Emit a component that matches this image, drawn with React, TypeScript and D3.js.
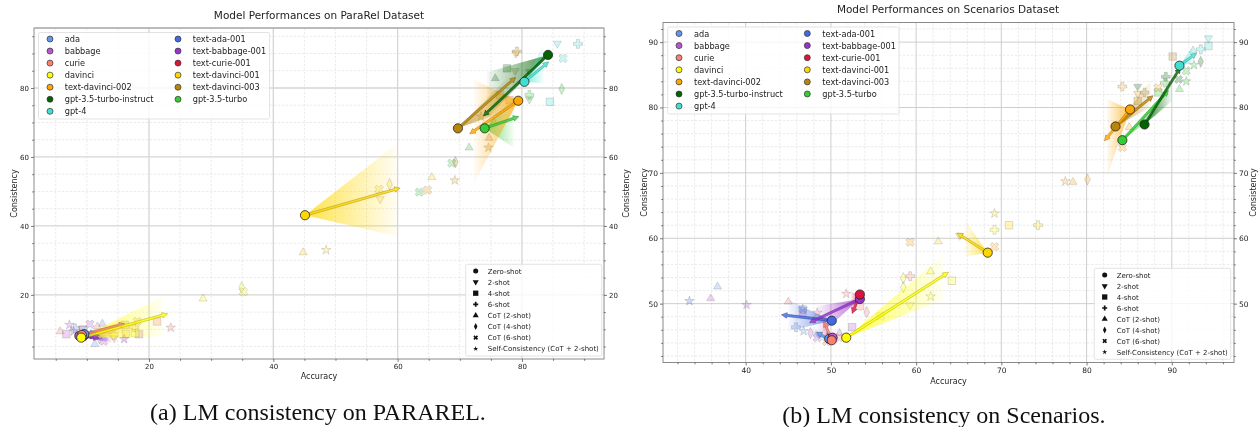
import { useEffect, useRef } from "react";
import * as d3 from "d3";

// legend order, two columns
const modelsCol1 = ["ada", "babbage", "curie", "davinci", "text-davinci-002", "gpt-3.5-turbo-instruct", "gpt-4"];
const modelsCol2 = ["text-ada-001", "text-babbage-001", "text-curie-001", "text-davinci-001", "text-davinci-003", "gpt-3.5-turbo"];
const shots = ["Zero-shot", "2-shot", "4-shot", "6-shot", "CoT (2-shot)", "CoT (4-shot)", "CoT (6-shot)", "Self-Consistency (CoT + 2-shot)"];

const modelColors: any = {
  "ada": "#6495ED", "babbage": "#BA55D3", "curie": "#FA8072", "davinci": "#FFFF00",
  "text-davinci-002": "#FFA500", "gpt-3.5-turbo-instruct": "#006400", "gpt-4": "#40E0D0",
  "text-ada-001": "#4169E1", "text-babbage-001": "#9932CC", "text-curie-001": "#DC143C",
  "text-davinci-001": "#FFD700", "text-davinci-003": "#B8860B", "gpt-3.5-turbo": "#32CD32",
};

// model -> zero-shot [accuracy, consistency]
const paraRelZero: any = {
  "ada": [9.6, 8.6], "babbage": [8.8, 8.1], "curie": [9.2, 8.4], "davinci": [9.1, 7.6],
  "text-davinci-002": [79.4, 76.3], "gpt-3.5-turbo-instruct": [84.2, 89.6], "gpt-4": [80.4, 81.8],
  "text-ada-001": [9.0, 8.0], "text-babbage-001": [9.4, 8.0], "text-curie-001": [9.5, 8.2],
  "text-davinci-001": [45.1, 43.1], "text-davinci-003": [69.7, 68.3], "gpt-3.5-turbo": [74.0, 68.3],
};
// model -> arrow tip [accuracy, consistency]
const paraRelTips: any = {
  "ada": [11.5, 9.2], "babbage": [12, 8.2], "curie": [16.1, 11.6], "davinci": [23, 14.5],
  "text-davinci-002": [71.6, 66.7], "gpt-3.5-turbo-instruct": [73.8, 71.9], "gpt-4": [84.3, 87.6],
  "text-ada-001": [11.5, 8], "text-babbage-001": [12, 7.4], "text-curie-001": [11, 8.9],
  "text-davinci-001": [60.4, 51], "text-davinci-003": [79, 83.1], "gpt-3.5-turbo": [79.5, 71.7],
};
// model -> cone end [accuracy, upper consistency, lower consistency]
const paraRelCones: any = {
  "ada": [13, 10.5, 7], "babbage": [14, 9.5, 6], "curie": [15, 12, 8], "davinci": [22.2, 19.5, 7.9],
  "text-davinci-002": [72.3, 82.3, 52.5], "gpt-3.5-turbo-instruct": [74.4, 84.6, 71.3], "gpt-4": [83.5, 92.5, 81.4],
  "text-ada-001": [13, 9.5, 6.5], "text-babbage-001": [14, 8.5, 6.2], "text-curie-001": [16, 12.5, 9],
  "text-davinci-001": [60, 64, 37], "text-davinci-003": [77.9, 83.3, 73.6], "gpt-3.5-turbo": [78.7, 77.2, 62.7],
};
// [model, shot index in shots, accuracy, consistency]
const paraRelPoints: any[] = [
  ["text-davinci-003", 3, 79.2, 90.6], ["text-davinci-002", 1, 79.0, 90.0], ["gpt-3.5-turbo-instruct", 4, 75.7, 82.8],
  ["gpt-3.5-turbo-instruct", 2, 77.6, 85.7], ["text-davinci-003", 1, 78.9, 85.0], ["gpt-3.5-turbo-instruct", 1, 81.2, 84.7],
  ["gpt-4", 2, 84.5, 76], ["gpt-3.5-turbo", 5, 86.4, 79.7], ["gpt-3.5-turbo", 3, 81.2, 78], ["gpt-3.5-turbo", 1, 81.2, 76.7],
  ["gpt-4", 1, 85.7, 92.9], ["gpt-4", 3, 89, 92.8], ["gpt-4", 6, 86.6, 88.6], ["text-davinci-003", 7, 73.4, 71.7],
  ["text-davinci-003", 4, 74.7, 65.5], ["text-davinci-003", 7, 74.6, 62.7], ["gpt-3.5-turbo", 4, 71.5, 62.7],
  ["gpt-3.5-turbo", 6, 68.7, 58.2], ["text-davinci-003", 5, 69.3, 58.5], ["text-davinci-001", 4, 65.5, 54.1],
  ["text-davinci-002", 7, 69.2, 53.2], ["text-davinci-002", 6, 64.8, 50.4], ["gpt-3.5-turbo", 6, 63.5, 49.8],
  ["text-davinci-002", 2, 76.5, 78], ["text-davinci-003", 2, 78, 76.5], ["text-davinci-002", 4, 75.5, 70],
  ["text-davinci-001", 5, 58.7, 52.1], ["text-davinci-001", 6, 57, 50.6], ["text-davinci-001", 1, 57.2, 47.8],
  ["text-davinci-001", 4, 44.8, 32.3], ["text-davinci-001", 7, 48.5, 33],
  ["davinci", 4, 28.7, 18.9], ["davinci", 5, 34.9, 22.2], ["davinci", 6, 35.2, 20.9],
  ["curie", 7, 23.5, 10.5], ["curie", 2, 21.3, 12.3], ["text-davinci-002", 6, 18.1, 12.3], ["babbage", 2, 18.4, 8.6],
  ["davinci", 2, 17.8, 8.9], ["text-davinci-003", 2, 16.1, 11.3], ["text-davinci-002", 2, 16.3, 8.7],
  ["text-babbage-001", 7, 16, 7.2], ["curie", 1, 14.4, 7.5], ["text-davinci-002", 3, 17.6, 10.6],
  ["ada", 4, 11.3, 5.7], ["ada", 4, 12.5, 11.6], ["babbage", 6, 10.5, 11.5], ["babbage", 7, 7.2, 11.3],
  ["curie", 4, 5.7, 9.4], ["babbage", 2, 6.7, 8.6], ["text-babbage-001", 7, 7.9, 9.4], ["ada", 3, 8.1, 10.3],
  ["curie", 1, 9.2, 10.3], ["ada", 2, 9.4, 9.9], ["ada", 5, 12, 7.5], ["babbage", 6, 12.7, 6.5],
  ["curie", 4, 11.7, 10.8], ["davinci", 3, 14.3, 8.4],
];

const scenariosZero: any = {
  "ada": [49.8, 44.6], "babbage": [50.2, 44.8], "curie": [50.1, 44.4], "davinci": [51.8, 44.8],
  "text-davinci-002": [85.1, 79.7], "gpt-3.5-turbo-instruct": [86.8, 77.4], "gpt-4": [90.9, 86.4],
  "text-ada-001": [50.1, 47.4], "text-babbage-001": [53.4, 50.7], "text-curie-001": [53.4, 51.4],
  "text-davinci-001": [68.4, 57.8], "text-davinci-003": [83.4, 77.1], "gpt-3.5-turbo": [84.2, 75],
};
const scenariosTips: any = {
  "ada": [48.3, 45.6], "babbage": [49.5, 45.5], "curie": [49.2, 47.3], "davinci": [63.8, 54.8],
  "text-davinci-002": [82.1, 74.9], "gpt-3.5-turbo-instruct": [91, 86.1], "gpt-4": [92.9, 88.3],
  "text-ada-001": [44.2, 48.3], "text-babbage-001": [47.5, 47.1], "text-curie-001": [52.5, 48.5],
  "text-davinci-001": [64.8, 60.8], "text-davinci-003": [87.8, 81.8], "gpt-3.5-turbo": [89.6, 82.6],
};
const scenariosCones: any = {
  "ada": [47.8, 46.4, 44.9], "babbage": [49, 46.5, 44.8], "curie": [49, 48, 45.5], "davinci": [63.2, 57.5, 50.6],
  "text-davinci-002": [82.4, 81.3, 69.4], "gpt-3.5-turbo-instruct": [90, 84.5, 81], "gpt-4": [92.5, 89.5, 86.8],
  "text-ada-001": [45, 50.6, 45.8], "text-babbage-001": [48.3, 49.6, 44.8], "text-curie-001": [52.3, 51.8, 48.7],
  "text-davinci-001": [65.7, 62.8, 57.2], "text-davinci-003": [87.6, 84.2, 80.1], "gpt-3.5-turbo": [89.4, 82.7, 80.1],
};
const scenariosPoints: any[] = [
  ["text-ada-001", 7, 33.4, 50.4], ["babbage", 4, 35.9, 50.8], ["ada", 4, 36.7, 52.6], ["babbage", 7, 40.1, 49.8],
  ["curie", 4, 45, 50.3], ["ada", 2, 46.7, 49.1], ["ada", 7, 46.7, 49.2], ["babbage", 6, 46.7, 48.6], ["ada", 3, 45.9, 46.4],
  ["ada", 7, 46.8, 45.8], ["babbage", 5, 47.6, 45.5], ["babbage", 6, 48.4, 44.8], ["curie", 7, 48.4, 48.6],
  ["curie", 7, 51.8, 51.5], ["curie", 2, 53.4, 49.6], ["curie", 5, 54.2, 48.7], ["babbage", 2, 52.5, 46.4],
  ["babbage", 4, 51, 45.5], ["curie", 6, 51, 44.8], ["curie", 6, 49.5, 44.2], ["ada", 1, 48.6, 45.3], ["babbage", 5, 49.4, 47.1],
  ["davinci", 1, 59.3, 49.8], ["davinci", 5, 58.5, 53.9], ["davinci", 5, 58.5, 52.5], ["curie", 3, 59.3, 54.2],
  ["davinci", 6, 55.8, 48.1], ["text-davinci-002", 6, 59.3, 59.4], ["text-davinci-001", 4, 62.6, 59.5],
  ["davinci", 4, 61.7, 54.9], ["davinci", 7, 61.7, 51.1], ["davinci", 2, 64.2, 53.5], ["text-davinci-001", 1, 65.1, 60.4],
  ["text-davinci-002", 6, 69.2, 58.7], ["davinci", 3, 69.2, 61.3], ["text-davinci-001", 7, 69.2, 63.8],
  ["text-davinci-001", 2, 70.9, 62], ["text-davinci-001", 3, 74.3, 62], ["text-davinci-002", 7, 77.5, 68.7],
  ["text-davinci-002", 4, 78.4, 68.6], ["text-davinci-002", 5, 80.1, 69], ["text-davinci-002", 6, 84.2, 73.9],
  ["text-davinci-002", 3, 84.2, 83.2], ["gpt-3.5-turbo-instruct", 1, 86, 83.2], ["text-davinci-002", 1, 86, 82.1],
  ["text-davinci-003", 3, 86.8, 82.3], ["text-davinci-003", 2, 86, 81], ["gpt-3.5-turbo", 2, 88.4, 82.3],
  ["text-davinci-002", 6, 88.4, 83], ["gpt-3.5-turbo", 4, 90.9, 82.8], ["gpt-3.5-turbo", 7, 91.7, 84],
  ["gpt-3.5-turbo-instruct", 6, 90.8, 84.3], ["gpt-3.5-turbo-instruct", 3, 89.3, 84.7], ["gpt-3.5-turbo", 3, 89.2, 83.8],
  ["text-davinci-003", 2, 90.1, 87.8], ["gpt-3.5-turbo", 6, 91.7, 85.6], ["gpt-3.5-turbo", 7, 92.6, 86.5],
  ["gpt-3.5-turbo-instruct", 5, 93.4, 87], ["gpt-4", 3, 93.4, 88.9], ["gpt-4", 4, 92.5, 88.7], ["gpt-4", 2, 94.3, 89.4],
  ["gpt-4", 1, 94.3, 90.6], ["text-davinci-002", 4, 85, 77],
];

const panels = [
  {
    id: "a", title: "Model Performances on ParaRel Dataset", caption: "(a) LM consistency on PARAREL.",
    zero: paraRelZero, tips: paraRelTips, cones: paraRelCones, points: paraRelPoints,
    xDomain: [1.5, 93.2], yDomain: [1.4, 97.4], xRange: [34, 604], yRange: [359, 28],
    xMajor: [20, 40, 60, 80], yMajor: [20, 40, 60, 80], xStep: 5, yStep: 5,
    titleX: 319, titleY: 19, xLabelY: 379, leftLabelX: 17, rightLabelX: 629, captionX: 318, captionY: 420, fontTick: 7,
    gridWidth: 1.3, gridColor: "#d6d6d6", topSpine: "#b8b8b8", topWidth: 1.6,
    models: { x: 38.5, y: 32.5, w: 231, h: 86.5, rowStart: 39, row: 12.05, m1: 50, t1: 64.7, m2: 178, t2: 192.7 },
    shotBox: { x: 465.7, y: 264.3, w: 136, h: 91.7, rowStart: 271, row: 11.1, m: 475.7, t: 487.7 },
  },
  {
    id: "b", title: "Model Performances on Scenarios Dataset", caption: "(b) LM consistency on Scenarios.",
    zero: scenariosZero, tips: scenariosTips, cones: scenariosCones, points: scenariosPoints,
    xDomain: [30.3, 97.3], yDomain: [41, 93], xRange: [663, 1234], yRange: [362.5, 22.5],
    xMajor: [40, 50, 60, 70, 80, 90], yMajor: [50, 60, 70, 80, 90], xStep: 2, yStep: 2,
    titleX: 948, titleY: 13, xLabelY: 384, leftLabelX: 647, rightLabelX: 1256, captionX: 944, captionY: 423, fontTick: 7.5,
    gridWidth: 0.9, gridColor: "#c8c8c8", topSpine: "#8a8a8a", topWidth: 1,
    models: { x: 667.7, y: 27, w: 231.3, h: 87, rowStart: 33.5, row: 12.1, m1: 679, t1: 694, m2: 807.3, t2: 822.3 },
    shotBox: { x: 1094.3, y: 268.3, w: 136.4, h: 91, rowStart: 275, row: 11, m: 1104.7, t: 1116.7 },
  },
];

const SANS = "'DejaVu Sans', sans-serif";
const drawOrder = [...modelsCol2, ...modelsCol1];

// d3 symbol + transform per shot, matplotlib style markers
const markerSizes = [48, 28, 56, 44, 28, 40, 44, 28];
const legendSizes = [20, 16, 28, 14, 16, 16, 14, 8];

function shotPath(shot: number, size: number) {
  const sym = [d3.symbolCircle, d3.symbolTriangle, d3.symbolSquare, d3.symbolCross, d3.symbolTriangle, d3.symbolSquare, d3.symbolCross, d3.symbolStar][shot];
  return d3.symbol(sym, size)();
}
function shotTransform(shot: number, x: number, y: number) {
  if (shot === 1) return `translate(${x},${y}) rotate(180)`;
  if (shot === 5) return `translate(${x},${y}) scale(0.62,1.25) rotate(45)`;
  if (shot === 6) return `translate(${x},${y}) rotate(45)`;
  return `translate(${x},${y})`;
}

function arrowPoints(x0: number, y0: number, x1: number, y1: number, half: number) {
  const len = Math.hypot(x1 - x0, y1 - y0) || 1;
  const ux = (x1 - x0) / len, uy = (y1 - y0) / len;
  const nx = -uy, ny = ux;
  const headLen = 5.5, headHalf = half + 1.7;
  const bx = x1 - ux * headLen, by = y1 - uy * headLen;
  return [
    [x0 + nx * half, y0 + ny * half], [bx + nx * half, by + ny * half], [bx + nx * headHalf, by + ny * headHalf],
    [x1, y1], [bx - nx * headHalf, by - ny * headHalf], [bx - nx * half, by - ny * half], [x0 - nx * half, y0 - ny * half],
  ].map((p) => p.join(",")).join(" ");
}

function drawPanel(root: any, defs: any, p: any) {
  const x = d3.scaleLinear().domain(p.xDomain).range(p.xRange);
  const y = d3.scaleLinear().domain(p.yDomain).range(p.yRange);
  const [left, right] = p.xRange;
  const [bottom, top] = p.yRange;
  const g = root.append("g");

  const xMinor = d3.range(Math.ceil(p.xDomain[0] / p.xStep) * p.xStep, p.xDomain[1], p.xStep).filter((v: number) => !p.xMajor.includes(v));
  const yMinor = d3.range(Math.ceil(p.yDomain[0] / p.yStep) * p.yStep, p.yDomain[1], p.yStep).filter((v: number) => !p.yMajor.includes(v));

  // grid
  const grid = g.append("g");
  grid.selectAll(".mx").data(xMinor).join("line").attr("x1", (d: number) => x(d)).attr("x2", (d: number) => x(d)).attr("y1", top).attr("y2", bottom)
    .attr("stroke", "#e2e2e2").attr("stroke-width", 0.7).attr("stroke-dasharray", "2.5,1.5");
  grid.selectAll(".my").data(yMinor).join("line").attr("y1", (d: number) => y(d)).attr("y2", (d: number) => y(d)).attr("x1", left).attr("x2", right)
    .attr("stroke", "#e2e2e2").attr("stroke-width", 0.7).attr("stroke-dasharray", "2.5,1.5");
  grid.selectAll(".gx").data(p.xMajor).join("line").attr("x1", (d: number) => x(d)).attr("x2", (d: number) => x(d)).attr("y1", top).attr("y2", bottom)
    .attr("stroke", p.gridColor).attr("stroke-width", p.gridWidth);
  grid.selectAll(".gy").data(p.yMajor).join("line").attr("y1", (d: number) => y(d)).attr("y2", (d: number) => y(d)).attr("x1", left).attr("x2", right)
    .attr("stroke", p.gridColor).attr("stroke-width", p.gridWidth);

  // faint few-shot / CoT points
  g.append("g").selectAll("path").data(p.points).join("path")
    .attr("d", (d: any) => shotPath(d[1], markerSizes[d[1]]))
    .attr("transform", (d: any) => shotTransform(d[1], x(d[2]), y(d[3])))
    .attr("fill", (d: any) => modelColors[d[0]]).attr("fill-opacity", 0.26)
    .attr("stroke", "#555").attr("stroke-opacity", 0.28).attr("stroke-width", 0.7);

  // cone + arrow for each model
  drawOrder.forEach((m, i) => {
    const [ax, ay] = p.zero[m];
    const [ex, up, low] = p.cones[m];
    const gradId = `cone-${p.id}-${i}`;
    const grad = defs.append("linearGradient").attr("id", gradId).attr("gradientUnits", "userSpaceOnUse")
      .attr("x1", x(ax)).attr("y1", 0).attr("x2", x(ex)).attr("y2", 0);
    grad.append("stop").attr("offset", 0).attr("stop-color", modelColors[m]).attr("stop-opacity", 0.7);
    grad.append("stop").attr("offset", 1).attr("stop-color", modelColors[m]).attr("stop-opacity", 0.04);
    g.append("path")
      .attr("d", d3.line()([[x(ax), y(ay)], [x(ex), y(up)], [x(ex), y(low)]]) + "Z")
      .attr("fill", `url(#${gradId})`);
  });
  drawOrder.forEach((m) => {
    const [ax, ay] = p.zero[m];
    const [tx, ty] = p.tips[m];
    g.append("polygon")
      .attr("points", arrowPoints(x(ax), y(ay), x(tx), y(ty), 1.1))
      .attr("fill", modelColors[m]).attr("fill-opacity", 0.8)
      .attr("stroke", d3.color(modelColors[m])!.darker(1.2).formatHex()).attr("stroke-opacity", 0.8)
      .attr("stroke-width", 0.6);
  });
  // zero-shot circles on top
  drawOrder.forEach((m) => {
    const [ax, ay] = p.zero[m];
    g.append("circle").attr("cx", x(ax)).attr("cy", y(ay)).attr("r", 4.6)
      .attr("fill", modelColors[m]).attr("stroke", "#222").attr("stroke-width", 0.8);
  });

  // spines
  g.append("rect").attr("x", left).attr("y", top).attr("width", right - left).attr("height", bottom - top)
    .attr("fill", "none").attr("stroke", "#8a8a8a").attr("stroke-width", 1);
  g.append("line").attr("x1", left).attr("x2", right).attr("y1", top).attr("y2", top)
    .attr("stroke", p.topSpine).attr("stroke-width", p.topWidth);

  // axes
  const axisText = (sel: any) => {
    sel.selectAll("text").attr("font-family", SANS).attr("font-size", p.fontTick).attr("fill", "#222");
    sel.selectAll("path").remove();
    sel.selectAll("line").attr("stroke", "#444").attr("stroke-width", 0.7);
  };
  g.append("g").attr("transform", `translate(0,${bottom})`)
    .call(d3.axisBottom(x).tickValues(p.xMajor).tickSize(3).tickPadding(2)).call(axisText);
  g.append("g").attr("transform", `translate(${left},0)`)
    .call(d3.axisLeft(y).tickValues(p.yMajor).tickSize(3).tickPadding(2)).call(axisText);
  g.append("g").attr("transform", `translate(${right},0)`)
    .call(d3.axisRight(y).tickValues(p.yMajor).tickSize(3).tickPadding(2)).call(axisText);
  g.append("g").attr("transform", `translate(0,${bottom})`)
    .call(d3.axisBottom(x).tickValues(xMinor).tickSize(1.8).tickFormat(() => "")).call(axisText);
  g.append("g").attr("transform", `translate(${left},0)`)
    .call(d3.axisLeft(y).tickValues(yMinor).tickSize(1.8).tickFormat(() => "")).call(axisText);
  g.append("g").attr("transform", `translate(${right},0)`)
    .call(d3.axisRight(y).tickValues(yMinor).tickSize(1.8).tickFormat(() => "")).call(axisText);

  // titles and labels
  const label = (txt: string, tx: number, ty: number, size: number, rotate = false) => {
    const t = g.append("text").attr("text-anchor", "middle").attr("font-family", SANS).attr("font-size", size).attr("fill", "#222").text(txt);
    if (rotate) t.attr("transform", `translate(${tx},${ty}) rotate(-90)`);
    else t.attr("x", tx).attr("y", ty);
  };
  label(p.title, p.titleX, p.titleY, 10.5);
  label("Accuracy", (left + right) / 2, p.xLabelY, 8);
  const midY = (top + bottom) / 2;
  label("Consistency", p.leftLabelX, midY, 8, true);
  label("Consistency", p.rightLabelX, midY, 8, true);

  g.append("text").attr("x", p.captionX).attr("y", p.captionY).attr("text-anchor", "middle")
    .attr("font-family", "'Liberation Serif', serif").attr("font-size", 24).attr("fill", "#111").text(p.caption);

  // model legend
  const lm = p.models;
  g.append("rect").attr("x", lm.x).attr("y", lm.y).attr("width", lm.w).attr("height", lm.h).attr("rx", 1.5)
    .attr("fill", "#fff").attr("fill-opacity", 0.8).attr("stroke", "#dcdcdc").attr("stroke-width", 0.8);
  const legendCol = (names: string[], mx: number, tx: number) => {
    names.forEach((m, i) => {
      const ry = lm.rowStart + i * lm.row;
      g.append("circle").attr("cx", mx).attr("cy", ry).attr("r", 3).attr("fill", modelColors[m]).attr("stroke", "#333").attr("stroke-width", 0.7);
      g.append("text").attr("x", tx).attr("y", ry + 3).attr("font-family", SANS).attr("font-size", 8.2).attr("fill", "#222").text(m);
    });
  };
  legendCol(modelsCol1, lm.m1, lm.t1);
  legendCol(modelsCol2, lm.m2, lm.t2);

  // shot legend
  const ls = p.shotBox;
  g.append("rect").attr("x", ls.x).attr("y", ls.y).attr("width", ls.w).attr("height", ls.h).attr("rx", 1.5)
    .attr("fill", "#fff").attr("fill-opacity", 0.8).attr("stroke", "#dcdcdc").attr("stroke-width", 0.8);
  shots.forEach((s, i) => {
    const ry = ls.rowStart + i * ls.row;
    g.append("path").attr("d", shotPath(i, legendSizes[i]))
      .attr("transform", shotTransform(i, ls.m, ry)).attr("fill", "#111");
    g.append("text").attr("x", ls.t).attr("y", ry + 2.5).attr("font-family", SANS).attr("font-size", 7).attr("fill", "#222").text(s);
  });
}

export default function App() {
  const ref = useRef<SVGSVGElement>(null);
  useEffect(() => {
    const svg = d3.select(ref.current);
    svg.selectAll("*").remove();
    const defs = svg.append("defs");
    panels.forEach((p) => drawPanel(svg, defs, p));
  }, []);
  return (
    <svg
      ref={ref}
      width={1258}
      height={427}
      style={{ position: "absolute", left: 0, top: 0, background: "#fff", filter: "blur(0.4px)" }}
    />
  );
}
